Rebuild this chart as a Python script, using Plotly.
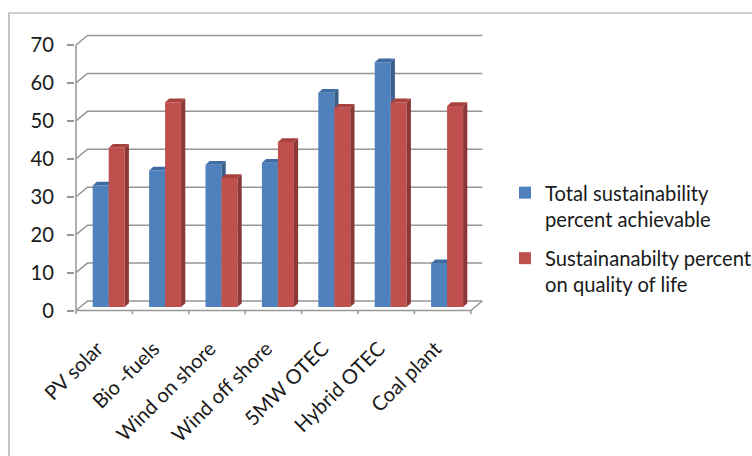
import plotly.graph_objects as go

# ---------------- data ----------------
categories = ["PV solar", "Bio -fuels", "Wind on shore", "Wind off shore",
              "5MW OTEC", "Hybrid OTEC", "Coal plant"]
total_sustainability = [32, 36, 37.5, 38, 56.5, 64.5, 11.5]
quality_of_life = [42, 54, 34, 43.5, 52.5, 54, 53]
y_ticks = [0, 10, 20, 30, 40, 50, 60, 70]
series_names = ["Total sustainability<br>percent achievable",
                "Sustainanabilty percent<br>on quality of life"]

# ---------------- styling / geometry ----------------
FONT = "Lato"
FS = 20.2
TXT = "#1a1a1a"
GRID = "#969696"
BLUE, BLUE_SIDE, BLUE_TOP = "#4F81BD", "#3A5F8B", "#3F6CA3"
RED, RED_SIDE, RED_TOP = "#C0504D", "#8C3836", "#A8423F"

W, H = 752, 456
PX_X = 56.4          # pixels per category
PX_Y = 3.793         # pixels per value unit
L, RGT, T, BOT = 75, 490, 26, 315   # plot area in pixels
ZERO_PX = 310.5                      # pixel row of front 0 level

x0 = -0.5 - 1 / PX_X
x1 = x0 + (RGT - L) / PX_X
y0 = -(BOT - ZERO_PX) / PX_Y
y1 = y0 + (BOT - T) / PX_Y

wall_dx, wall_dy = 11.5 / PX_X, 9.5 / PX_Y      # back wall offset
plane_dx, plane_dy = 4.5 / PX_X, 3.5 / PX_Y     # bar front plane offset
depth_dx, depth_dy = 4.2 / PX_X, 3.8 / PX_Y     # bar depth
bar_w = 16 / PX_X
label_shift = -7 / PX_X

n = len(categories)
xs = list(range(n))
first, last = -0.5, n - 0.5

fig = go.Figure()

# ---------------- walls, gridlines, floor ----------------
gx, gy = [], []
for v in y_ticks:
    gx += [first, first + wall_dx, last + wall_dx, None]
    gy += [v, v + wall_dy, v + wall_dy, None]
gx += [first, first, None, first, last, last + wall_dx, None]
gy += [0, y_ticks[-1], None, 0, 0, wall_dy, None]
for k in range(n + 1):
    b = first + k
    gx += [b, b, None]
    gy += [0, -1.0, None]
fig.add_trace(go.Scatter(x=gx, y=gy, mode="lines", line=dict(color=GRID, width=1.5),
                         hoverinfo="skip", showlegend=False, xaxis="x", yaxis="y"))


def faces(values, left_off):
    sx, sy, tx, ty = [], [], [], []
    for i, v in enumerate(values):
        left = i + left_off
        right = left + bar_w
        bot = plane_dy
        top = v + plane_dy
        sx += [right, right, right + depth_dx, right + depth_dx, right, None]
        sy += [bot, top, top + depth_dy, bot + depth_dy, bot, None]
        tx += [left, right, right + depth_dx, left + depth_dx, left, None]
        ty += [top, top, top + depth_dy, top + depth_dy, top, None]
    return sx, sy, tx, ty


def add_series(values, name, off, front, side, topc, xa, ya, grp):
    fig.add_trace(go.Bar(x=xs, y=values, base=plane_dy, offset=off, width=bar_w,
                         marker=dict(color=front, line=dict(width=0)), name=name,
                         legendgroup=grp, xaxis=xa, yaxis=ya, hoverinfo="skip"))
    sx, sy, tx, ty = faces(values, off)
    fig.add_trace(go.Scatter(x=sx, y=sy, mode="none", fill="toself", fillcolor=side,
                             showlegend=False, hoverinfo="skip", xaxis=xa, yaxis=ya))
    fig.add_trace(go.Scatter(x=tx, y=ty, mode="none", fill="toself", fillcolor=topc,
                             showlegend=False, hoverinfo="skip", xaxis=xa, yaxis=ya))


add_series(total_sustainability, series_names[0], plane_dx - bar_w,
           BLUE, BLUE_SIDE, BLUE_TOP, "x2", "y2", "a")
add_series(quality_of_life, series_names[1], plane_dx,
           RED, RED_SIDE, RED_TOP, "x3", "y3", "b")

hidden = dict(range=[x0, x1], visible=False, fixedrange=True)
hiddeny = dict(range=[y0, y1], visible=False, fixedrange=True)

fig.update_layout(
    width=W, height=H,
    margin=dict(l=L, r=W - RGT, t=T, b=H - BOT, autoexpand=False),
    paper_bgcolor="white", plot_bgcolor="rgba(0,0,0,0)",
    font=dict(family=FONT, size=FS, color=TXT),
    barmode="overlay",
    xaxis=dict(range=[x0, x1], tickmode="array", tickvals=[i + label_shift for i in xs],
               ticktext=categories,
               tickangle=-45, ticks="", showgrid=False, zeroline=False, showline=False,
               ticklabelstandoff=17, automargin=False, fixedrange=True,
               tickfont=dict(family=FONT, size=FS, color=TXT)),
    yaxis=dict(range=[y0, y1], tickmode="array", tickvals=y_ticks, ticks="outside",
               ticklen=7, tickwidth=1.5, tickcolor=GRID, showgrid=False, zeroline=False,
               showline=False, ticklabelstandoff=9, automargin=False, fixedrange=True,
               tickfont=dict(family=FONT, size=FS, color=TXT)),
    xaxis2=dict(overlaying="x", **hidden),
    yaxis2=dict(overlaying="y", **hiddeny),
    xaxis3=dict(overlaying="x", **hidden),
    yaxis3=dict(overlaying="y", **hiddeny),
    showlegend=True,
    legend=dict(x=(505 - L) / (RGT - L), y=1 - (173 - T) / (BOT - T),
                xanchor="left", yanchor="top", valign="top",
                bgcolor="rgba(0,0,0,0)", borderwidth=0, tracegroupgap=10,
                font=dict(family=FONT, size=FS, color=TXT)),
    shapes=[dict(type="rect", xref="paper", yref="paper",
                 x0=(9 - L) / (RGT - L), x1=(W + 20 - L) / (RGT - L),
                 y0=1 - (H + 20 - T) / (BOT - T), y1=1 - (13 - T) / (BOT - T),
                 line=dict(color="#A0A0A0", width=1.2), layer="below")],
)

fig.write_html("out.html")
